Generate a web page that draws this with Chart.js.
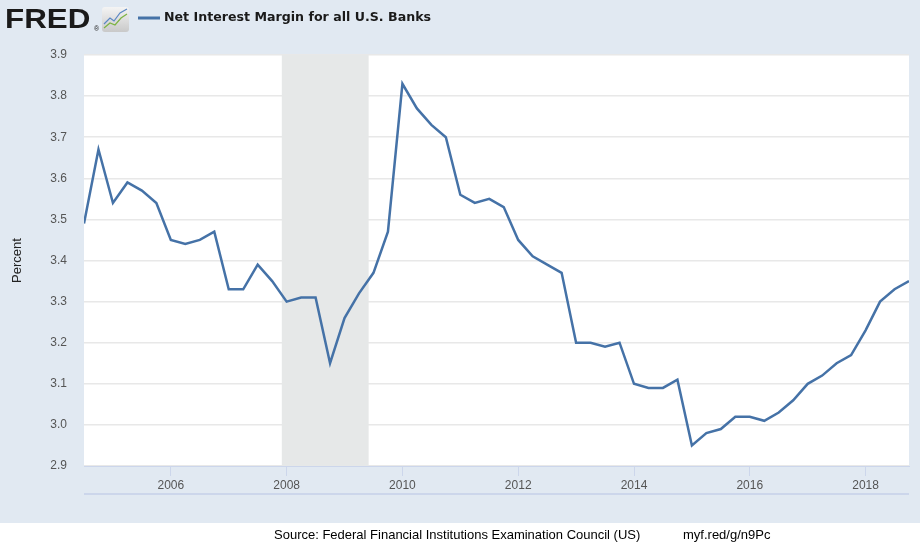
<!DOCTYPE html>
<html>
<head>
<meta charset="utf-8">
<title>Net Interest Margin for all U.S. Banks</title>
<script src="https://cdn.jsdelivr.net/npm/chart.js@4.4.1/dist/chart.umd.min.js"></script>
<style>
  html, body { margin: 0; padding: 0; background: #ffffff; }
  canvas { display: block; }
</style>
</head>
<body>
<canvas id="nimChart" width="920" height="550"></canvas>
<script>
// quarterly observations (FRED USNIM)
var quarters = [
  '2004-07-01', '2004-10-01',
  '2005-01-01', '2005-04-01', '2005-07-01', '2005-10-01',
  '2006-01-01', '2006-04-01', '2006-07-01', '2006-10-01',
  '2007-01-01', '2007-04-01', '2007-07-01', '2007-10-01',
  '2008-01-01', '2008-04-01', '2008-07-01', '2008-10-01',
  '2009-01-01', '2009-04-01', '2009-07-01', '2009-10-01',
  '2010-01-01', '2010-04-01', '2010-07-01', '2010-10-01',
  '2011-01-01', '2011-04-01', '2011-07-01', '2011-10-01',
  '2012-01-01', '2012-04-01', '2012-07-01', '2012-10-01',
  '2013-01-01', '2013-04-01', '2013-07-01', '2013-10-01',
  '2014-01-01', '2014-04-01', '2014-07-01', '2014-10-01',
  '2015-01-01', '2015-04-01', '2015-07-01', '2015-10-01',
  '2016-01-01', '2016-04-01', '2016-07-01', '2016-10-01',
  '2017-01-01', '2017-04-01', '2017-07-01', '2017-10-01',
  '2018-01-01', '2018-04-01', '2018-07-01', '2018-10-01'
];
var marginPct = [
  3.49, 3.67,
  3.54, 3.59, 3.57, 3.54,
  3.45, 3.44, 3.45, 3.47,
  3.33, 3.33, 3.39, 3.35,
  3.30, 3.31, 3.31, 3.15,
  3.26, 3.32, 3.37, 3.47,
  3.83, 3.77, 3.73, 3.70,
  3.56, 3.54, 3.55, 3.53,
  3.45, 3.41, 3.39, 3.37,
  3.20, 3.20, 3.19, 3.20,
  3.10, 3.09, 3.09, 3.11,
  2.95, 2.98, 2.99, 3.02,
  3.02, 3.01, 3.03, 3.06,
  3.10, 3.12, 3.15, 3.17,
  3.23, 3.30, 3.33, 3.35
];
var yearTicks = [2006, 2008, 2010, 2012, 2014, 2016, 2018];
var recessions = [['2007-12-01', '2009-06-01']];

var seriesName = 'Net Interest Margin for all U.S. Banks';
var sourceText = 'Source: Federal Financial Institutions Examination Council (US)';
var shortUrl = 'myf.red/g/n9Pc';

// '2004-07-01' -> 2004.5
function toYear(d) {
  var p = d.split('-');
  return parseInt(p[0], 10) + (parseInt(p[1], 10) - 1) / 12;
}

var points = quarters.map(function(q, i) {
  return { x: toYear(q), y: marginPct[i] };
});

var fredFrame = {
  id: 'fredFrame',
  beforeDraw: function(chart) {
    var ctx = chart.ctx, a = chart.chartArea;
    ctx.save();
    ctx.fillStyle = '#ffffff';
    ctx.fillRect(0, 0, chart.width, chart.height);
    ctx.fillStyle = '#e1e9f2';
    ctx.fillRect(0, 0, chart.width, 523);
    ctx.fillStyle = '#ffffff';
    ctx.fillRect(a.left, a.top, a.right - a.left, a.bottom - a.top);
    ctx.restore();
  },
  beforeDatasetsDraw: function(chart) {
    var ctx = chart.ctx, a = chart.chartArea, xs = chart.scales.x;
    ctx.save();
    ctx.fillStyle = '#e6e8e8';
    recessions.forEach(function(r) {
      var x0 = xs.getPixelForValue(toYear(r[0]));
      var x1 = xs.getPixelForValue(toYear(r[1]));
      ctx.fillRect(x0, a.top, x1 - x0, a.bottom - a.top);
    });
    ctx.restore();
  },
  afterDraw: function(chart) {
    var ctx = chart.ctx, a = chart.chartArea;
    ctx.save();

    // line under the year labels
    ctx.strokeStyle = '#ccd6eb';
    ctx.lineWidth = 2;
    ctx.beginPath();
    ctx.moveTo(a.left, 494);
    ctx.lineTo(a.right, 494);
    ctx.stroke();

    // FRED logo
    ctx.fillStyle = '#1a1a1a';
    ctx.textBaseline = 'alphabetic';
    ctx.textAlign = 'left';
    ctx.save();
    ctx.translate(5, 28);
    ctx.scale(1.12, 1);
    ctx.font = 'bold 28px "Liberation Sans", Arial, sans-serif';
    ctx.fillText('FRED', 0, 0);
    ctx.restore();
    ctx.font = '7px "Liberation Sans", Arial, sans-serif';
    ctx.fillText('\u00ae', 94, 31);

    // small graph icon
    var g = ctx.createLinearGradient(0, 7, 0, 32);
    g.addColorStop(0, '#f4f4f4');
    g.addColorStop(1, '#c9c9c9');
    ctx.fillStyle = g;
    ctx.beginPath();
    ctx.roundRect(102, 7, 27, 25, 3);
    ctx.fill();
    ctx.lineWidth = 1.2;
    ctx.strokeStyle = '#5b87c4';
    ctx.beginPath();
    ctx.moveTo(104, 24); ctx.lineTo(110, 18); ctx.lineTo(114, 21);
    ctx.lineTo(120, 13); ctx.lineTo(127, 9);
    ctx.stroke();
    ctx.strokeStyle = '#7cb342';
    ctx.beginPath();
    ctx.moveTo(104, 28); ctx.lineTo(110, 23); ctx.lineTo(115, 25);
    ctx.lineTo(121, 18); ctx.lineTo(127, 14);
    ctx.stroke();

    // legend
    ctx.strokeStyle = '#4572a7';
    ctx.lineWidth = 3;
    ctx.beginPath();
    ctx.moveTo(138, 18);
    ctx.lineTo(160, 18);
    ctx.stroke();
    ctx.fillStyle = '#1a1a1a';
    ctx.textBaseline = 'middle';
    var size = 14;
    ctx.font = 'bold ' + size + 'px "DejaVu Sans", Verdana, sans-serif';
    var w = ctx.measureText(seriesName).width;
    size = size * 267 / w;
    ctx.font = 'bold ' + size.toFixed(2) + 'px "DejaVu Sans", Verdana, sans-serif';
    ctx.fillText(seriesName, 164, 18);

    // source line
    ctx.fillStyle = '#000000';
    ctx.font = '13px "Liberation Sans", Arial, sans-serif';
    ctx.textBaseline = 'middle';
    ctx.fillText(sourceText, 274, 535);
    ctx.fillText(shortUrl, 683, 535);

    ctx.restore();
  }
};

new Chart(document.getElementById('nimChart'), {
  type: 'line',
  data: {
    datasets: [{
      label: seriesName,
      data: points,
      borderColor: '#4572a7',
      borderWidth: 2.5,
      pointRadius: 0,
      pointHoverRadius: 0,
      tension: 0,
      fill: false
    }]
  },
  options: {
    responsive: false,
    animation: false,
    devicePixelRatio: 1,
    layout: { padding: { top: 55, right: 11, bottom: 0, left: 0 } },
    plugins: {
      legend: { display: false },
      tooltip: { enabled: false }
    },
    scales: {
      x: {
        type: 'linear',
        min: toYear(quarters[0]),
        max: toYear(quarters[quarters.length - 1]),
        afterBuildTicks: function(scale) {
          scale.ticks = yearTicks.map(function(v) { return { value: v }; });
        },
        afterFit: function(scale) { scale.height = 84; },
        grid: {
          drawOnChartArea: false,
          drawTicks: true,
          tickLength: 10,
          color: '#ccd6eb'
        },
        border: { display: true, color: '#ccd6eb', width: 1 },
        ticks: {
          autoSkip: false,
          maxRotation: 0,
          padding: 2,
          color: '#555555',
          font: { family: '"Liberation Sans", Arial, sans-serif', size: 12 },
          callback: function(v) { return String(v); }
        }
      },
      y: {
        min: 2.9,
        max: 3.9,
        afterFit: function(scale) { scale.width = 84; },
        grid: {
          color: '#e8e8e8',
          lineWidth: 1.5,
          drawTicks: false
        },
        border: { display: false },
        ticks: {
          stepSize: 0.1,
          padding: 17,
          color: '#555555',
          font: { family: '"Liberation Sans", Arial, sans-serif', size: 12 },
          callback: function(v) { return Number(v).toFixed(1); }
        },
        title: {
          display: true,
          text: 'Percent',
          color: '#222222',
          padding: { top: 10, bottom: 0 },
          font: { family: '"Liberation Sans", Arial, sans-serif', size: 13 }
        }
      }
    }
  },
  plugins: [fredFrame]
});
</script>
</body>
</html>
